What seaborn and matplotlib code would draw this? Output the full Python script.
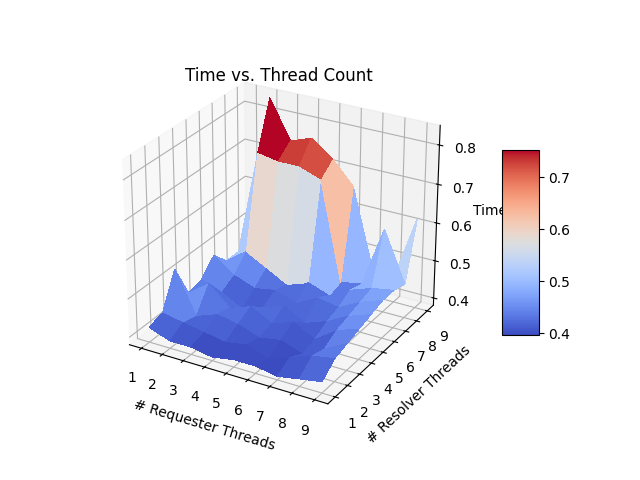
import numpy as np
import seaborn as sns
import matplotlib
matplotlib.use("Agg")
import matplotlib.pyplot as plt

requester_threads = [1, 2, 3, 4, 5, 6, 7, 8, 9]
resolver_threads = [1, 2, 3, 4, 5, 6, 7, 8, 9]

# rows = resolver threads, cols = requester threads
times = [
    [0.42, 0.40, 0.40, 0.39, 0.40, 0.40, 0.39, 0.40, 0.41],
    [0.43, 0.42, 0.41, 0.40, 0.41, 0.39, 0.41, 0.43, 0.44],
    [0.52, 0.41, 0.43, 0.42, 0.40, 0.41, 0.39, 0.42, 0.45],
    [0.43, 0.47, 0.42, 0.44, 0.41, 0.43, 0.40, 0.44, 0.46],
    [0.44, 0.42, 0.39, 0.41, 0.43, 0.40, 0.42, 0.45, 0.47],
    [0.48, 0.44, 0.42, 0.43, 0.41, 0.44, 0.43, 0.46, 0.48],
    [0.44, 0.48, 0.45, 0.42, 0.44, 0.42, 0.45, 0.47, 0.48],
    [0.44, 0.72, 0.71, 0.71, 0.69, 0.43, 0.44, 0.60, 0.47],
    [0.45, 0.84, 0.74, 0.76, 0.72, 0.66, 0.45, 0.45, 0.62],
]

cmap = sns.color_palette("coolwarm", as_cmap=True)

X, Y = np.meshgrid(requester_threads, resolver_threads)
Z = np.array(times)

fig = plt.figure(figsize=(6.4, 4.8), dpi=100)
ax = fig.add_subplot(111, projection="3d")
ax.view_init(elev=26.5, azim=-60)
ax.set_box_aspect((4, 4, 3.58))
surf = ax.plot_surface(X, Y, Z, cmap=cmap, linewidth=0, antialiased=False)
ax.set_title("Time vs. Thread Count", y=0.987)
ax.set_xlabel("# Requester Threads")
ax.set_ylabel("# Resolver Threads")
ax.set_zlabel("Time")
ax.set_xticks(requester_threads)
ax.set_yticks(resolver_threads)
fig.colorbar(surf, shrink=0.5, aspect=5)

pos = ax.get_position()
ax.set_position([pos.x0 - 0.02, pos.y0 + 0.004, pos.width, pos.height])

fig.savefig("out.png", dpi=100)
